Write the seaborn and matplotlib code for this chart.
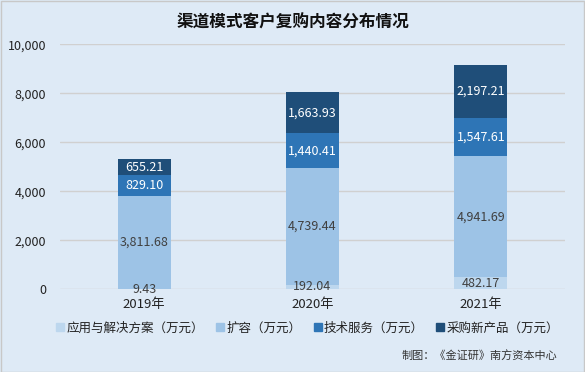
import pandas as pd
import matplotlib.pyplot as plt
import seaborn as sns
from matplotlib.lines import Line2D

# data
years = ['2019年', '2020年', '2021年']
series_names = ['应用与解决方案（万元）', '扩容（万元）', '技术服务（万元）', '采购新产品（万元）']
app_solution = [9.43, 192.04, 482.17]
expansion = [3811.68, 4739.44, 4941.69]
tech_service = [829.10, 1440.41, 1547.61]
new_product = [655.21, 1663.93, 2197.21]

colors = ['#BDD7EE', '#9DC3E6', '#2E75B6', '#1F4E79']
text_colors = ['#404040', '#404040', 'white', 'white']
bg = '#DEEAF6'

sns.set_theme(style='white')
plt.rcParams['font.family'] = ['Noto Sans CJK SC', 'DejaVu Sans']

fig = plt.figure(figsize=(5.85, 3.72), dpi=100, facecolor=bg)
ax = fig.add_axes([0.1026, 0.2223, 0.8632, 0.6587])
ax.set_facecolor(bg)

series = [app_solution, expansion, tech_service, new_product]
bottom = [0.0] * len(years)
for name, vals, col, tcol in zip(series_names, series, colors, text_colors):
    df = pd.DataFrame({'year': years, 'value': vals})
    sns.barplot(data=df, x='year', y='value', color=col, width=0.315,
                bottom=bottom, ax=ax, zorder=3, saturation=1, linewidth=0)
    for i, v in enumerate(vals):
        ax.text(i, bottom[i] + v / 2, f'{v:,.2f}', ha='center', va='center',
                color=tcol, fontsize=9, zorder=4)
    bottom = [b + v for b, v in zip(bottom, vals)]

ax.set_ylim(0, 10000)
ax.set_xlim(-0.5, 2.5)
ax.set_yticks(range(0, 10001, 2000))
ax.set_yticklabels([f'{t:,}' for t in range(0, 10001, 2000)], fontsize=9, color='#222222')
ax.tick_params(axis='x', labelsize=9.5, colors='#222222', length=0, pad=6)
ax.tick_params(axis='y', length=0, pad=10)
ax.set_xlabel('')
ax.set_ylabel('')
ax.grid(axis='y', color='#D0D0D0', linewidth=1, zorder=0)
for s in ax.spines.values():
    s.set_visible(False)

fig.text(0.5, 0.94, '渠道模式客户复购内容分布情况', ha='center', va='center',
         fontsize=12, fontweight='bold', color='#111111')

handles = [Line2D([0], [0], marker='s', linestyle='', markersize=6,
                  markerfacecolor=c, markeredgecolor=c) for c in colors]
fig.legend(handles, series_names, loc='center', bbox_to_anchor=(0.525, 0.118),
           ncol=4, frameon=False, fontsize=9, handletextpad=0.1,
           columnspacing=0.9, handlelength=0.8, labelcolor='#222222')

fig.text(0.952, 0.045, '制图：《金证研》南方资本中心', ha='right', va='center',
         fontsize=8, color='#333333')

fig.patches.append(plt.Rectangle((0.001, 0.001), 0.997, 0.997, transform=fig.transFigure,
                                 fill=False, edgecolor='#C8C8C8', linewidth=1))

fig.savefig('out.png', dpi=100, facecolor=bg)
